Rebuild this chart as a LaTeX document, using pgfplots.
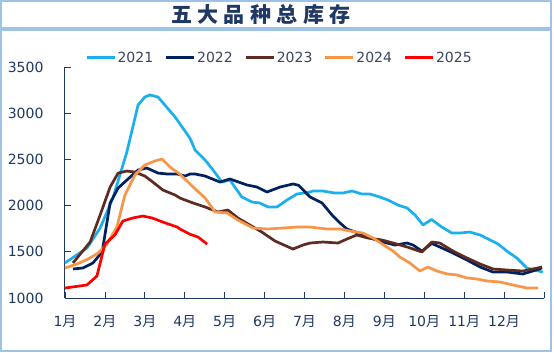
\documentclass[border=0pt]{standalone}
\usepackage{pgfplots}
\pgfplotsset{compat=1.18}
\usepackage{fontspec}
\setmainfont{DejaVu Sans}
\newfontfamily\cjk{Noto Sans CJK SC}
\definecolor{c21}{HTML}{1AB0EC}
\definecolor{c22}{HTML}{002060}
\definecolor{c23}{HTML}{5E2B20}
\definecolor{c24}{HTML}{F79646}
\definecolor{c25}{HTML}{FF0000}
\definecolor{navy}{HTML}{1F3864}
\definecolor{framec}{HTML}{9DC3E6}
\definecolor{legtxt}{HTML}{3A4560}
\begin{document}
\begin{tikzpicture}
\fill[white] (0pt,0pt) rectangle (554pt,-353pt);
\draw[framec, line width=1.5pt] (1pt,-1pt) rectangle (551pt,-28pt);
\draw[framec, line width=1.5pt] (1pt,-30pt) rectangle (551pt,-351pt);
\node[text=navy, font=\cjk\bfseries\fontsize{21}{21}\selectfont] at (261pt,-14.5pt)
  {五\kern5.5pt 大\kern5.5pt 品\kern5.5pt 种\kern5.5pt 总\kern5.5pt 库\kern5.5pt 存};
\begin{axis}[
  at={(65pt,-298pt)}, anchor=south west,
  scale only axis, width=479pt, height=231pt,
  xmin=0, xmax=12, ymin=1000, ymax=3500,
  axis lines*=left,
  axis line style={-, navy, line width=1pt},
  every outer x axis line/.append style={-},
  every outer y axis line/.append style={-},
  every inner x axis line/.append style={-},
  every inner y axis line/.append style={-},
  tick align=inside, major tick length=6pt,
  tick style={navy, line width=0.8pt},
  xtick={0,1,...,12},
  xticklabels={1{\cjk 月},2{\cjk 月},3{\cjk 月},4{\cjk 月},5{\cjk 月},6{\cjk 月},7{\cjk 月},8{\cjk 月},9{\cjk 月},10{\cjk 月},11{\cjk 月},12{\cjk 月},{}},
  ytick={1000,1500,...,3500},
  /pgf/number format/1000 sep={},
  /pgf/number format/assume math mode=true,
  ticklabel style={font=\fontsize{14}{14}\selectfont, text=navy},
  yticklabel style={xshift=-18pt},
  xticklabel style={yshift=-14pt},
  no markers, clip=false,
  legend columns=5,
  legend style={at={(0.447,1.039)}, anchor=center, draw=none, fill=none,
    font=\fontsize{14}{14}\selectfont, text=legtxt,
    /tikz/every even column/.append style={column sep=10pt},
    nodes={inner xsep=1.5pt}},
  legend image code/.code={\draw[#1, line width=3pt] (0pt,0pt) -- (28pt,0pt);},
  every axis plot/.append style={line width=2.7pt, line join=round},
]
\addplot[c21] coordinates {(0,1380) (0.55,1540) (0.88,1757) (1.20,2082) (1.55,2580) (1.83,3088) (2.00,3175) (2.13,3197) (2.33,3175) (2.76,2958) (3.13,2730) (3.26,2601) (3.51,2493) (3.71,2385) (3.93,2255) (4.13,2277) (4.43,2093) (4.68,2039) (4.88,2028) (5.09,1985) (5.31,1985) (5.56,2060) (5.81,2125) (6.14,2147) (6.21,2158) (6.46,2158) (6.76,2136) (6.96,2136) (7.19,2158) (7.44,2125) (7.64,2125) (7.89,2093) (8.09,2060) (8.34,2006) (8.57,1974) (8.77,1898) (8.97,1790) (9.18,1850) (9.44,1768) (9.69,1703) (9.89,1703) (10.14,1714) (10.40,1682) (10.60,1638) (10.85,1584) (11.10,1498) (11.32,1433) (11.57,1325) (11.77,1303) (11.97,1281)};
\addlegendentry{2021}
\addplot[c22] coordinates {(0.20,1314) (0.45,1325) (0.70,1379) (0.93,1498) (1.00,1682) (1.13,2028) (1.33,2190) (1.55,2277) (1.83,2385) (2.05,2407) (2.33,2352) (2.56,2342) (2.81,2342) (3.01,2320) (3.13,2342) (3.26,2342) (3.51,2320) (3.88,2255) (4.13,2288) (4.56,2223) (4.81,2201) (5.06,2147) (5.39,2201) (5.71,2234) (5.85,2220) (6.14,2093) (6.44,2028) (6.69,1898) (6.89,1812) (7.06,1747) (7.34,1703) (7.64,1649) (7.97,1606) (8.27,1573) (8.57,1595) (8.72,1573) (8.94,1508) (9.19,1590) (9.39,1552) (9.72,1487) (10.07,1411) (10.40,1335) (10.72,1281) (11.07,1281) (11.47,1260) (11.72,1292) (11.95,1325)};
\addlegendentry{2022}
\addplot[c23] coordinates {(0.20,1379) (0.63,1606) (0.88,1898) (1.13,2201) (1.33,2352) (1.55,2374) (1.75,2363) (2.00,2320) (2.20,2255) (2.45,2169) (2.76,2114) (2.88,2082) (3.01,2060) (3.21,2028) (3.51,1985) (3.83,1931) (4.08,1952) (4.33,1866) (4.63,1790) (4.93,1714) (5.26,1617) (5.71,1530) (5.96,1573) (6.14,1595) (6.46,1606) (6.84,1595) (7.06,1638) (7.31,1682) (7.59,1649) (7.94,1628) (8.22,1595) (8.57,1552) (8.94,1498) (9.19,1606) (9.39,1595) (9.72,1508) (10.07,1433) (10.40,1368) (10.72,1314) (11.07,1303) (11.47,1292) (11.72,1314) (11.95,1335)};
\addlegendentry{2023}
\addplot[c24] coordinates {(0,1325) (0.30,1368) (0.58,1422) (0.83,1487) (1.05,1584) (1.30,1768) (1.50,2114) (1.75,2331) (2.00,2439) (2.25,2482) (2.43,2504) (2.63,2417) (2.88,2340) (3.13,2234) (3.21,2201) (3.51,2082) (3.76,1931) (4.06,1920) (4.33,1844) (4.71,1757) (5.09,1747) (5.46,1757) (5.81,1768) (6.14,1768) (6.56,1747) (6.89,1747) (7.14,1725) (7.46,1703) (7.72,1649) (8.02,1563) (8.22,1508) (8.39,1443) (8.64,1379) (8.89,1292) (9.09,1335) (9.32,1292) (9.57,1260) (9.82,1249) (10.07,1217) (10.32,1206) (10.57,1184) (10.90,1173) (11.22,1141) (11.57,1108) (11.85,1108)};
\addlegendentry{2024}
\addplot[c25] coordinates {(0,1108) (0.55,1141) (0.80,1238) (1.00,1584) (1.25,1682) (1.45,1833) (1.70,1866) (1.95,1887) (2.18,1866) (2.45,1822) (2.81,1768) (2.88,1747) (3.13,1690) (3.33,1660) (3.56,1584)};
\addlegendentry{2025}
\end{axis}
\end{tikzpicture}
\end{document}
